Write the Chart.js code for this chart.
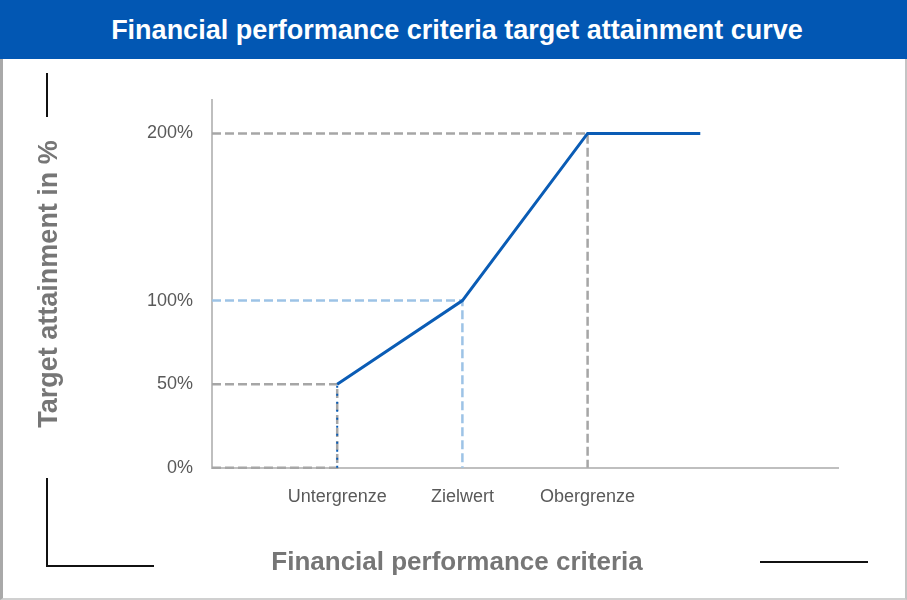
<!DOCTYPE html>
<html>
<head>
<meta charset="utf-8">
<script src="https://cdn.jsdelivr.net/npm/chart.js@4.4.1/dist/chart.umd.min.js"></script>
<style>
  html, body { margin: 0; padding: 0; background: #fff; }
  #page { position: relative; width: 907px; height: 600px; overflow: hidden; background: #fff; }
  #header { position: absolute; left: 0; top: 0; width: 907px; height: 59px; background: #0257b3;
    color: #fff; font-family: "Liberation Sans", Arial, sans-serif; font-weight: bold;
    font-size: 27px; line-height: 61px; text-align: center; box-sizing: border-box; padding-left: 7px; }
  #frame { position: absolute; left: 0; top: 59px; width: 907px; height: 541px; box-sizing: border-box;
    border-left: 3px solid #a9a9a9; border-right: 2px solid #c4c4c4; border-bottom: 2px solid #d0d0d0; }
  .mark { position: absolute; background: #111; }
  #wrap { position: absolute; left: 0; top: 60px; width: 907px; height: 540px; }
</style>
</head>
<body>
<div id="page">
  <div id="header">Financial performance criteria target attainment curve</div>
  <div id="frame"></div>
  <div class="mark" style="left:46px; top:73px; width:2px; height:44px;"></div>
  <div class="mark" style="left:46px; top:478px; width:2px; height:89px;"></div>
  <div class="mark" style="left:46px; top:565px; width:108px; height:2px;"></div>
  <div class="mark" style="left:760px; top:561px; width:108px; height:2px;"></div>
  <div id="wrap"><canvas id="c" width="907" height="540"></canvas></div>
</div>
<script>
// ---- data ----
const categories = ["Untergrenze", "Zielwert", "Obergrenze"];
const categoryX = [1, 2, 3];
const yTickValues = [0, 50, 100, 200];
const curveX = [1, 2, 3, 3.9];
const curveY = [50, 100, 200, 200];
const lowerDropX = [1, 1];
const lowerDropY = [0, 50];
const lowerGuideX = [0, 1, 1, 0];
const lowerGuideY = [50, 50, 0, 0];
const targetGuideX = [0, 2, 2];
const targetGuideY = [100, 100, 0];
const upperGuideX = [0, 3, 3];
const upperGuideY = [200, 200, 0];

const pts = (xs, ys) => xs.map((x, i) => ({ x: x, y: ys[i] }));

const FONT = "'Liberation Sans', Arial, sans-serif";
const BLUE = "#0a5cb5";
const GREY = "#a6a6a6";
const LIGHT = "#9dc3e6";

const base = { showLine: true, pointRadius: 0, pointHoverRadius: 0, fill: false, tension: 0, clip: false };

new Chart(document.getElementById("c"), {
  type: "scatter",
  data: {
    datasets: [
      Object.assign({}, base, { label: "Target attainment", data: pts(curveX, curveY), borderColor: BLUE, borderWidth: 3 }),
      Object.assign({}, base, { label: "Lower limit drop", data: pts(lowerDropX, lowerDropY), borderColor: BLUE, borderWidth: 2, borderDash: [2, 6] }),
      Object.assign({}, base, { label: "Lower guide", data: pts(lowerGuideX, lowerGuideY), borderColor: GREY, borderWidth: 2.5, borderDash: [9, 4] }),
      Object.assign({}, base, { label: "Target guide", data: pts(targetGuideX, targetGuideY), borderColor: LIGHT, borderWidth: 2.5, borderDash: [9, 4] }),
      Object.assign({}, base, { label: "Upper guide", data: pts(upperGuideX, upperGuideY), borderColor: GREY, borderWidth: 2.5, borderDash: [9, 4] })
    ]
  },
  options: {
    responsive: false,
    animation: false,
    events: [],
    layout: { padding: { left: 7, right: 0, top: 40, bottom: 13 } },
    plugins: {
      legend: { display: false },
      tooltip: { enabled: false },
      title: {
        display: true,
        position: "bottom",
        text: "Financial performance criteria",
        color: "#767676",
        font: { family: FONT, size: 26, weight: "bold" },
        padding: { top: 19, bottom: 9 }
      }
    },
    scales: {
      x: {
        type: "linear",
        min: 0, max: 5,
        grid: { display: false, drawTicks: false },
        border: { display: true, color: "#bfbfbf", width: 2 },
        afterBuildTicks: (s) => { s.ticks = categoryX.map(v => ({ value: v })); },
        afterFit: (s) => { s.height = 60; },
        ticks: {
          autoSkip: false, maxRotation: 0,
          padding: 18,
          color: "#595959",
          font: { family: FONT, size: 18 },
          callback: (v) => { const i = categoryX.indexOf(v); return i >= 0 ? categories[i] : ""; }
        }
      },
      y: {
        type: "linear",
        min: 0, max: 220,
        grid: { display: false, drawTicks: false },
        border: { display: true, color: "#bfbfbf", width: 2 },
        afterBuildTicks: (s) => { s.ticks = yTickValues.map(v => ({ value: v })); },
        afterFit: (s) => { s.width = 205; },
        ticks: {
          padding: 19,
          color: "#595959",
          font: { family: FONT, size: 18 },
          callback: (v) => v + "%"
        },
        title: {
          display: true,
          text: "Target attainment in %",
          color: "#767676",
          font: { family: FONT, size: 27, weight: "bold" },
          padding: { top: 26, bottom: 0 }
        }
      },
      yRight: {
        type: "linear",
        position: "right",
        display: true,
        grid: { display: false, drawTicks: false },
        border: { display: false },
        ticks: { display: false },
        afterFit: (s) => { s.width = 69; }
      }
    }
  }
});
</script>
</body>
</html>
